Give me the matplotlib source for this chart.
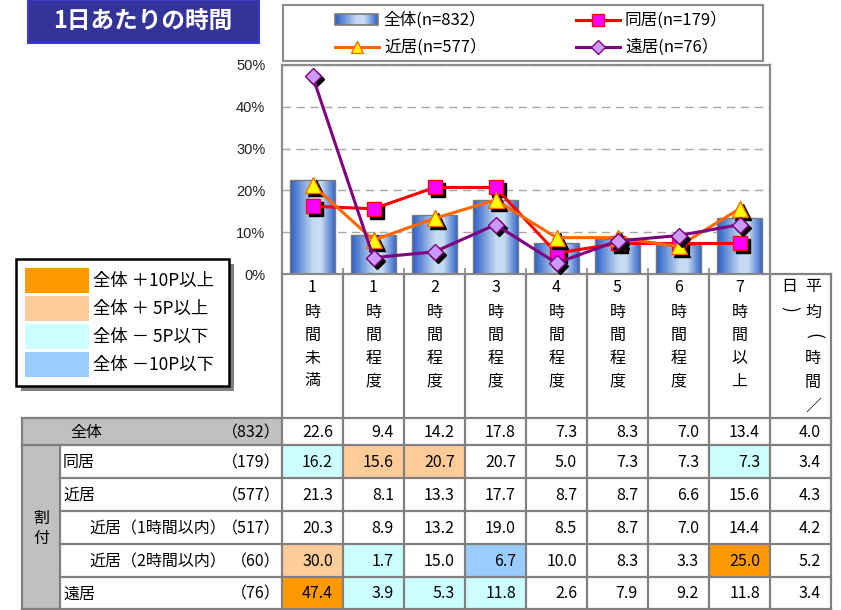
import numpy as np
import matplotlib
matplotlib.use('Agg')
import matplotlib.pyplot as plt
from matplotlib.patches import Rectangle
from matplotlib.colors import LinearSegmentedColormap
import matplotlib.transforms as mtransforms

plt.rcParams['font.family'] = ['Noto Sans CJK JP', 'DejaVu Sans']

# ---------------- data ----------------
categories = ['1時間未満', '1時間程度', '2時間程度', '3時間程度',
              '4時間程度', '5時間程度', '6時間程度', '7時間以上']
total = [22.6, 9.4, 14.2, 17.8, 7.3, 8.3, 7.0, 13.4]
dokyo = [16.2, 15.6, 20.7, 20.7, 5.0, 7.3, 7.3, 7.3]
kinkyo = [21.3, 8.1, 13.3, 17.7, 8.7, 8.7, 6.6, 15.6]
kinkyo1 = [20.3, 8.9, 13.2, 19.0, 8.5, 8.7, 7.0, 14.4]
kinkyo2 = [30.0, 1.7, 15.0, 6.7, 10.0, 8.3, 3.3, 25.0]
enkyo = [47.4, 3.9, 5.3, 11.8, 2.6, 7.9, 9.2, 11.8]
avg_total = 4.0
sub_avgs = [3.4, 4.3, 4.2, 5.2, 3.4]
sub_rows = [dokyo, kinkyo, kinkyo1, kinkyo2, enkyo]
sub_labels = ['同居', '近居', '近居（1時間以内）', '近居（2時間以内）', '遠居']
sub_n = ['（179）', '（577）', '（517）', '（60）', '（76）']
sub_indent = [False, False, True, True, False]
total_label = '全体'
total_n = '（832）'
series_names = ['全体(n=832）', '同居(n=179）', '近居(n=577）', '遠居(n=76）']
yticks = [0, 10, 20, 30, 40, 50]
ytick_labels = ['0%', '10%', '20%', '30%', '40%', '50%']
title = '1日あたりの時間'
avg_header_right = ['平', '均', '(', '時', '間', '／']
avg_header_left = ['日', ')']
key_labels = ['全体 ＋10P以上', '全体 ＋ 5P以上', '全体 － 5P以下', '全体 －10P以下']
key_colors = ['#FF9900', '#FFCC99', '#CCFFFF', '#99CCFF']

W, H = 841, 610
fig = plt.figure(figsize=(W / 100, H / 100), dpi=100)

ov = fig.add_axes([0, 0, 1, 1])
ov.set_xlim(0, W)
ov.set_ylim(H, 0)
ov.axis('off')
ov.set_autoscale_on(False)

# chart axes
AX_L, AX_R, AX_T, AX_B = 282, 770, 65, 274
ax = fig.add_axes([AX_L / W, 1 - AX_B / H, (AX_R - AX_L) / W, (AX_B - AX_T) / H])

grad_cmap = LinearSegmentedColormap.from_list(
    'bar', [(0, '#2b5ec6'), (0.5, '#c4daf3'), (0.68, '#c8ddf4'), (1, '#2f63c9')])
grad = np.linspace(0, 1, 64).reshape(1, -1)

x = np.arange(len(categories))
bars = ax.bar(x, total, width=0.75, color='none', edgecolor='#7a7a7a', lw=1.0, zorder=3)
for b in bars:
    im = ax.imshow(grad, extent=[b.get_x(), b.get_x() + b.get_width(), 0, b.get_height()],
                   aspect='auto', cmap=grad_cmap, zorder=2, interpolation='bilinear')
    im.set_clip_path(b)

shadow = ax.transData + mtransforms.ScaledTranslation(3 / 100, -3 / 100, fig.dpi_scale_trans)

styles = [
    (dokyo, dict(color='#FF0000', marker='s', ms=10, mfc='#FF00FF', mec='#FF0000')),
    (kinkyo, dict(color='#FF6600', marker='^', ms=11, mfc='#FFFF00', mec='#FF6600')),
    (enkyo, dict(color='#800080', marker='D', ms=8.5, mfc='#CC99FF', mec='#800080')),
]
z = 5
for vals, st in styles:
    ax.plot(x, vals, ls='none', marker=st['marker'], ms=st['ms'], mfc='black', mec='black',
            transform=shadow, zorder=z)
    ax.plot(x, vals, lw=2.2, mew=1.0, zorder=z + 1, **st)
    z += 2

ax.set_xlim(-0.5, len(categories) - 0.5)
ax.set_ylim(0, 50)
ax.set_yticks(yticks)
ax.set_yticklabels(ytick_labels, fontfamily=['Liberation Sans'], fontsize=10.5, color='#222222')
ax.tick_params(axis='y', length=0, pad=12)
ax.set_xticks(np.arange(len(categories) + 1) - 0.5)
ax.set_xticklabels([])
ax.tick_params(axis='x', direction='in', length=4, color='#888888', width=1.2)
ax.yaxis.grid(True, ls=(0, (6, 4)), color='#a8a8a8', lw=1.0)
ax.set_axisbelow(True)
for s in ax.spines.values():
    s.set_color('#8a8a8a')
    s.set_linewidth(1.6)

# ---------------- title ----------------
ov.add_patch(Rectangle((28, 0), 231, 43, facecolor='#333399', edgecolor='#3a3acc', lw=1.5))
ov.text(143, 21, title, color='white', fontsize=17, fontweight='bold', ha='center', va='center')

# ---------------- series legend ----------------
ov.add_patch(Rectangle((283, 5), 480, 56, facecolor='white', edgecolor='#8a8a8a', lw=1.5))
ov.imshow(grad, extent=[335, 378, 25, 14], aspect='auto', cmap=grad_cmap, zorder=3)
ov.add_patch(Rectangle((335, 14), 43, 11, facecolor='none', edgecolor='#7a7a7a', lw=1.2, zorder=4))
ov.text(383, 20, series_names[0], fontsize=12, va='center', ha='left')
leg_pos = [(576, 20), (335, 47), (576, 47)]
for (vals, st), (px, py), name in zip(styles, leg_pos, series_names[1:]):
    ov.plot([px, px + 44], [py, py], color=st['color'], lw=2.2)
    ov.plot([px + 22], [py], ls='none', marker=st['marker'], ms=st['ms'] * 0.8,
            mfc=st['mfc'], mec=st['mec'], mew=1.0)
    ov.text(px + 49, py, name, fontsize=12, va='center', ha='left')

# ---------------- colour key ----------------
ov.add_patch(Rectangle((21, 264), 213, 127, facecolor='#808080', edgecolor='none'))
ov.add_patch(Rectangle((16, 259), 213, 127, facecolor='white', edgecolor='black', lw=1.8))
for i, (lab, col) in enumerate(zip(key_labels, key_colors)):
    y0 = 268 + i * 28
    ov.add_patch(Rectangle((25, y0), 64, 25, facecolor=col, edgecolor='none'))
    ov.text(93, y0 + 13, lab, fontsize=12.5, va='center', ha='left')

# ---------------- table ----------------
bx = [282 + 61 * i for i in range(9)] + [831]
ry = [418, 445, 478, 511, 544, 577, 609]
LC = '#808080'
LW = 1.6


def cell_color(v, base):
    d = v - base
    if d >= 10:
        return key_colors[0]
    if d >= 5:
        return key_colors[1]
    if d <= -10:
        return key_colors[3]
    if d <= -5:
        return key_colors[2]
    return None


# backgrounds
ov.add_patch(Rectangle((22, ry[0]), 260, ry[1] - ry[0], facecolor='#C0C0C0', edgecolor='none'))
ov.add_patch(Rectangle((22, ry[1]), 38, ry[-1] - ry[1], facecolor='#C0C0C0', edgecolor='none'))
for r, vals in enumerate(sub_rows):
    for j, v in enumerate(vals):
        c = cell_color(v, total[j])
        if c:
            ov.add_patch(Rectangle((bx[j], ry[r + 1]), bx[j + 1] - bx[j], ry[r + 2] - ry[r + 1],
                                   facecolor=c, edgecolor='none'))

# grid lines
ov.plot([AX_R, 831], [AX_B, AX_B], color=LC, lw=LW)
for xb in bx:
    ov.plot([xb, xb], [AX_B, ry[-1]], color=LC, lw=LW)
ov.plot([22, 831], [ry[0], ry[0]], color=LC, lw=LW)
ov.plot([22, 831], [ry[1], ry[1]], color=LC, lw=LW)
for yb in ry[2:-1]:
    ov.plot([60, 831], [yb, yb], color=LC, lw=LW)
ov.plot([22, 831], [ry[-1], ry[-1]], color=LC, lw=LW)
ov.plot([22, 22], [ry[0], ry[-1]], color=LC, lw=LW)
ov.plot([60, 60], [ry[1], ry[-1]], color=LC, lw=LW)

# header texts
FS = 11.5
char_y = [287, 312, 335, 358, 381]
for i, cat in enumerate(categories):
    cx = (bx[i] + bx[i + 1]) / 2
    for ch, cy in zip(list(cat), char_y):
        ov.text(cx, cy, ch, fontsize=FS, ha='center', va='center')


def vchar(xc, yc, ch):
    if ch in '()':
        ov.text(xc, yc, ch, fontsize=FS + 1, ha='center', va='center', rotation=-90)
    else:
        ov.text(xc, yc, ch, fontsize=FS, ha='center', va='center')


for ch, cy in zip(avg_header_right, [287, 312, 336, 359, 382, 406]):
    vchar(813, cy, ch)
for ch, cy in zip(avg_header_left, [287, 309]):
    vchar(789, cy, ch)


def row_center(r):
    return (ry[r] + ry[r + 1]) / 2 + 1


ov.text(70, row_center(0), total_label, fontsize=FS, ha='left', va='center')
ov.text(281, row_center(0), total_n, fontsize=FS, ha='right', va='center')
for j, v in enumerate(total):
    ov.text(bx[j + 1] - 10, row_center(0), f'{v:.1f}', fontsize=FS, ha='right', va='center')
ov.text(bx[-1] - 10, row_center(0), f'{avg_total:.1f}', fontsize=FS, ha='right', va='center')

ov.text(41, 518, '割', fontsize=FS, ha='center', va='center')
ov.text(41, 539, '付', fontsize=FS, ha='center', va='center')
for r, (vals, lab, n, ind, av) in enumerate(zip(sub_rows, sub_labels, sub_n, sub_indent, sub_avgs)):
    yc = row_center(r + 1)
    ov.text(89 if ind else 63, yc, lab, fontsize=FS, ha='left', va='center')
    ov.text(281, yc, n, fontsize=FS, ha='right', va='center')
    for j, v in enumerate(vals):
        ov.text(bx[j + 1] - 10, yc, f'{v:.1f}', fontsize=FS, ha='right', va='center')
    ov.text(bx[-1] - 10, yc, f'{av:.1f}', fontsize=FS, ha='right', va='center')

fig.savefig('out.png', dpi=100)
